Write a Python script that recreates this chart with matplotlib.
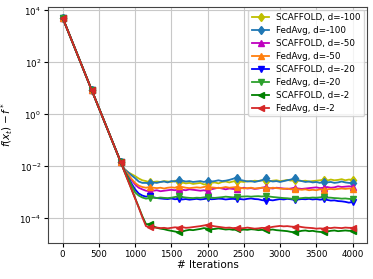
import numpy as np
import matplotlib
matplotlib.use("Agg")
import matplotlib.pyplot as plt

# iterations: 0, 400, then every 50 from 800 to 4000
iters = [0, 400] + list(range(800, 4001, 50))

start = [5200, 8.7, 0.015]

labels = ["SCAFFOLD, d=-100", "FedAvg, d=-100", "SCAFFOLD, d=-50", "FedAvg, d=-50",
          "SCAFFOLD, d=-20", "FedAvg, d=-20", "SCAFFOLD, d=-2", "FedAvg, d=-2"]
colors = ["y", "tab:blue", "m", "tab:orange", "b", "tab:green", "g", "tab:red"]
markers = ["d", "d", "^", "^", "v", "v", "<", "<"]

# values after 800 (850..4000), with unit scale
scaffold_100 = [8, 6, 5, 4.2, 3.4, 2.9, 2.7, 2.4, 2.5, 2.6, 2.5, 2.7, 2.6, 2.5, 2.8, 2.6, 2.4, 2.2, 2.3, 2.1,
                2.2, 2.3, 2.0, 2.1, 2.3, 2.4, 2.2, 2.5, 2.6, 2.4, 2.6, 2.8, 2.6, 2.5, 2.7, 2.6, 2.8, 2.7, 2.9, 2.7,
                2.6, 2.8, 2.9, 2.7, 2.8, 3.0, 2.8, 3.1, 2.9, 2.7, 2.8, 2.6, 2.7, 2.8, 2.9, 3.0, 2.8, 3.1, 2.9, 3.0,
                3.2, 2.9, 3.1, 3.0]
fedavg_100 = [8, 6, 4.5, 3.5, 2.6, 2.3, 2.3, 2.2, 2.4, 2.3, 2.5, 2.6, 2.4, 2.7, 2.6, 3.0, 2.8, 2.6, 2.7, 2.5,
              2.6, 2.7, 2.5, 2.8, 2.6, 2.7, 2.9, 2.7, 2.8, 3.0, 3.3, 3.7, 3.0, 2.8, 2.6, 2.7, 2.5, 2.7, 2.9, 3.4,
              2.8, 2.6, 2.7, 2.5, 2.7, 2.9, 3.1, 3.5, 2.9, 2.7, 2.5, 2.6, 2.4, 2.5, 2.3, 2.6, 2.4, 2.5, 2.3, 2.4,
              2.6, 2.4, 2.3, 2.3]
scaffold_50 = [7.5, 4.8, 3.0, 2.0, 1.5, 1.3, 1.15, 1.1, 1.15, 1.2, 1.1, 1.15, 1.2, 1.25, 1.2, 1.3, 1.25, 1.2, 1.3, 1.25,
               1.2, 1.15, 1.2, 1.1, 1.3, 1.4, 1.5, 1.4, 1.3, 1.4, 1.35, 1.3, 1.4, 1.5, 1.4, 1.45, 1.35, 1.4, 1.5, 1.6,
               1.45, 1.4, 1.5, 1.45, 1.4, 1.35, 1.4, 1.5, 1.4, 1.35, 1.4, 1.45, 1.5, 1.55, 1.45, 1.5, 1.6, 1.5, 1.55, 1.7,
               1.6, 1.65, 1.7, 1.65]
fedavg_50 = [7.5, 5, 3.3, 2.3, 1.8, 1.6, 1.5, 1.6, 1.5, 1.45, 1.5, 1.4, 1.5, 1.55, 1.5, 1.7, 1.6, 1.5, 1.45, 1.5,
             1.55, 1.5, 1.6, 1.7, 1.55, 1.5, 1.45, 1.5, 1.6, 1.5, 1.55, 1.6, 1.5, 1.4, 1.45, 1.5, 1.4, 1.45, 1.5, 1.45,
             1.4, 1.5, 1.45, 1.4, 1.35, 1.4, 1.3, 1.35, 1.3, 1.25, 1.3, 1.2, 1.25, 1.2, 1.3, 1.25, 1.3, 1.35, 1.3, 1.35,
             1.4, 1.35, 1.4, 1.4]
scaffold_20 = [70, 40, 22, 13, 9, 7.5, 6.8, 7.2, 6.5, 6.0, 5.8, 5.6, 5.5, 5.8, 5.4, 5.6, 5.3, 5.5, 5.2, 5.4,
               5.6, 5.3, 5.5, 5.8, 5.4, 5.5, 5.7, 5.6, 5.3, 5.5, 5.6, 5.4, 5.5, 5.3, 5.6, 5.8, 5.5, 5.4, 5.0, 4.8,
               5.1, 4.9, 5.2, 5.5, 5.3, 5.6, 5.4, 5.1, 5.3, 5.5, 5.4, 5.6, 5.3, 5.5, 5.2, 5.4, 5.1, 4.8, 4.9, 4.6,
               4.5, 4.3, 4.0, 4.2]
fedavg_20 = [70, 38, 19, 10, 7.5, 6.3, 5.7, 6.0, 6.2, 6.0, 6.3, 6.1, 6.0, 6.2, 6.6, 7.0, 6.6, 6.3, 6.1, 6.0,
             6.2, 6.1, 6.4, 6.6, 6.2, 6.1, 6.3, 6.5, 6.8, 6.6, 6.4, 6.6, 6.8, 6.9, 7.0, 6.8, 7.0, 7.1, 6.9, 7.2,
             6.9, 6.6, 6.4, 6.2, 6.0, 5.9, 5.7, 5.4, 5.8, 6.0, 6.2, 6.1, 6.3, 6.2, 6.4, 6.6, 6.3, 6.2, 6.0, 5.9,
             5.7, 5.8, 5.6, 5.5]
scaffold_2 = [660, 300, 135, 60, 27, 12, 6.0, 5.8, 5.0, 4.3, 4.0, 3.8, 3.5, 3.3, 3.1, 2.9, 3.1, 3.4, 3.6, 3.5,
              3.7, 3.9, 4.2, 4.0, 3.8, 3.9, 4.1, 3.9, 3.7, 3.8, 3.6, 3.8, 3.5, 3.7, 3.6, 3.8, 3.7, 3.5, 3.6, 3.4,
              3.6, 3.7, 3.5, 3.4, 3.3, 3.2, 3.0, 2.9, 3.1, 3.3, 3.4, 3.2, 3.3, 3.1, 3.0, 2.9, 3.1, 3.3, 3.4, 3.2,
              3.3, 3.4, 3.3, 3.3]
fedavg_2 = [650, 290, 130, 58, 26, 11, 5.0, 4.5, 4.3, 4.4, 4.2, 4.3, 4.1, 4.3, 4.5, 4.4, 4.6, 4.3, 4.4, 4.6,
            4.8, 5.0, 5.3, 5.6, 5.2, 4.9, 4.7, 4.5, 4.3, 4.4, 4.2, 4.3, 4.1, 4.2, 4.4, 4.2, 4.0, 4.1, 4.3, 4.2,
            4.4, 4.7, 4.9, 5.1, 4.9, 5.0, 4.8, 4.7, 4.9, 4.6, 4.4, 4.3, 4.2, 4.0, 4.1, 4.0, 4.3, 4.2, 4.4, 4.3,
            4.2, 4.4, 4.3, 4.3]

series = [(scaffold_100, 1e-3), (fedavg_100, 1e-3), (scaffold_50, 1e-3), (fedavg_50, 1e-3),
          (scaffold_20, 1e-4), (fedavg_20, 1e-4), (scaffold_2, 1e-5), (fedavg_2, 1e-5)]

plt.rcParams['font.family'] = ['DejaVu Sans']
plt.rcParams['font.size'] = 6.3

fig = plt.figure(figsize=(3.73, 2.79), dpi=100)
ax = fig.add_axes([0.129, 0.129, 0.855, 0.846])

x = np.array(iters)
mark_idx = [i for i, v in enumerate(iters) if v % 400 == 0]
for (vals, scale), lab, c, m in zip(series, labels, colors, markers):
    y = np.array(start + [v * scale for v in vals])
    ax.plot(x, y, color=c, marker=m, markevery=mark_idx, markersize=4.3, lw=1.3, label=lab)

ax.set_yscale('log')
ax.set_yticks([1e4, 1e2, 1e0, 1e-2, 1e-4])
ax.yaxis.set_minor_locator(matplotlib.ticker.NullLocator())
ax.set_xticks([0, 500, 1000, 1500, 2000, 2500, 3000, 3500, 4000])
ax.grid(True, color='#c8c8c8', lw=0.8)
ax.set_xlabel('# Iterations', fontsize=7.5, labelpad=1)
ax.set_ylabel(r'$f(x_t) - f^*$', fontsize=7.5)
ax.yaxis.set_label_coords(-0.105, 0.5)
ax.tick_params(labelsize=6.3, length=3, pad=2)
for s in ax.spines.values():
    s.set_color('#444444')
ax.legend(loc='upper right', fontsize=6.3, framealpha=0.8, handlelength=2.0,
          borderaxespad=0.3, labelspacing=0.45)

fig.savefig('out.png', dpi=100)
